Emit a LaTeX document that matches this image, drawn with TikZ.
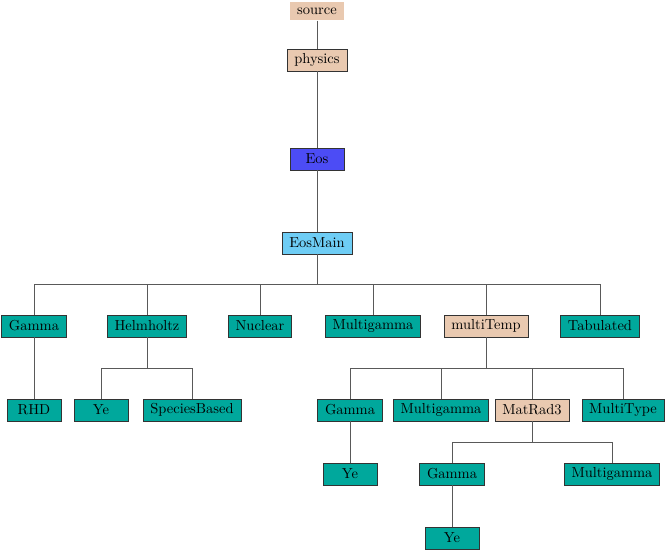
\documentclass[tikz,border=0pt]{standalone}
\usepackage{tikz}
\usetikzlibrary{positioning,calc}

\definecolor{tealbox}{RGB}{0,168,156}
\definecolor{peach}{RGB}{233,201,176}
\definecolor{eosblue}{RGB}{76,76,245}
\definecolor{skyblue}{RGB}{110,205,245}

\begin{document}
\begin{tikzpicture}[
  x=0.69pt, y=-0.69pt,
  every node/.style={font=\normalsize},
  box/.style={draw=black!80, minimum height=15pt, minimum width=37pt,
              inner xsep=5pt, inner ysep=2pt, fill=#1},
  edge/.style={draw=black!65, line width=0.6pt},
]
\useasboundingbox (0,0) rectangle (666,551);

%% ── top chain ──────────────────────────────────────────────
\node[fill=peach, minimum height=13pt, inner xsep=5pt] (src) at (317,11) {source};
\node[box=peach]   (phys)  at (317,60)  {physics};
\node[box=eosblue] (eos)   at (317,159) {Eos};
\node[box=skyblue] (emain) at (317,243) {EosMain};

\draw[edge] (src) -- (phys);
\draw[edge] (phys) -- (eos);
\draw[edge] (eos) -- (emain);

%% ── level 2 ────────────────────────────────────────────────
\node[box=tealbox] (gam)   at (34,326)  {Gamma};
\node[box=tealbox] (helm)  at (147,326) {Helmholtz};
\node[box=tealbox] (nuc)   at (260,326) {Nuclear};
\node[box=tealbox] (mgam)  at (373,326) {Multigamma};
\node[box=peach]   (mtemp) at (486,326) {multiTemp};
\node[box=tealbox] (tab)   at (600,326) {Tabulated};

\coordinate (bus1) at (317,284);
\foreach \c in {gam,helm,nuc,mgam,mtemp,tab}
  \draw[edge] (emain.south) |- (\c.north |- bus1) -- (\c.north);

%% ── level 3 ────────────────────────────────────────────────
\node[box=tealbox] (rhd)   at (34,410)  {RHD};
\node[box=tealbox] (hye)   at (101,410) {Ye};
\node[box=tealbox] (spec)  at (192,410) {SpeciesBased};
\node[box=tealbox] (tgam)  at (350,410) {Gamma};
\node[box=tealbox] (tmgam) at (441,410) {Multigamma};
\node[box=peach]   (mrad)  at (532,410) {MatRad3};
\node[box=tealbox] (mtype) at (623,410) {MultiType};

\draw[edge] (gam) -- (rhd);
\coordinate (bus2) at (147,368);
\foreach \c in {hye,spec}
  \draw[edge] (helm.south) |- (\c.north |- bus2) -- (\c.north);
\coordinate (bus3) at (486,368);
\foreach \c in {tgam,tmgam,mrad,mtype}
  \draw[edge] (mtemp.south) |- (\c.north |- bus3) -- (\c.north);

%% ── level 4 & 5 ────────────────────────────────────────────
\node[box=tealbox] (tye)   at (350,474) {Ye};
\node[box=tealbox] (rgam)  at (452,474) {Gamma};
\node[box=tealbox] (rmgam) at (612,474) {Multigamma};
\node[box=tealbox] (rye)   at (452,538) {Ye};

\draw[edge] (tgam) -- (tye);
\coordinate (bus4) at (532,442);
\foreach \c in {rgam,rmgam}
  \draw[edge] (mrad.south) |- (\c.north |- bus4) -- (\c.north);
\draw[edge] (rgam) -- (rye);
\end{tikzpicture}
\end{document}
